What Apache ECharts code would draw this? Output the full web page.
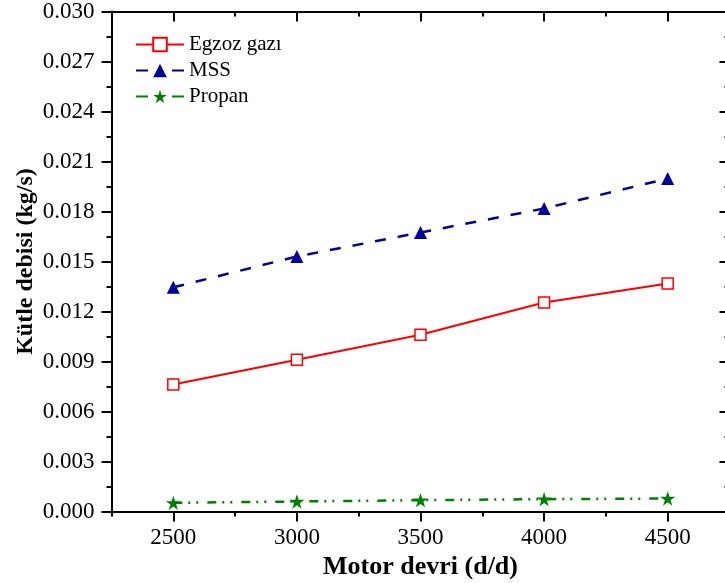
<!DOCTYPE html>
<html>
<head>
<meta charset="utf-8">
<script src="https://cdn.jsdelivr.net/npm/echarts@6/dist/echarts.min.js"></script>
<style>
html,body{margin:0;padding:0;background:#fff;}
#chart{width:725px;height:583px;}
</style>
</head>
<body>
<div id="chart"></div>
<script>
const rpm = [2500, 3000, 3500, 4000, 4500];
const egzoz = [0.00762, 0.0091, 0.0106, 0.01254, 0.01368];
const mss = [0.01345, 0.0153, 0.01674, 0.01818, 0.01998];
const propan = [0.00052, 0.0006, 0.00068, 0.00074, 0.00078];
const xMajorTicks = [2500, 3000, 3500, 4000, 4500];
const xMinorTicks = [2250, 2750, 3250, 3750, 4250, 4750];
const seriesNames = ['Egzoz gazı', 'MSS', 'Propan'];

const FONT = "'Liberation Serif', 'Times New Roman', serif";
const STAR = 'path://M100,0 L122.45,69.1 L195.1,69.1 L136.33,111.8 L158.78,180.9 L100,138.2 L41.22,180.9 L63.67,111.8 L4.9,69.1 L77.55,69.1 Z';
const XMIN = 2250, XMAX = 4750;

function pairs(ys){ return rpm.map((x,i)=>[x, ys[i]]); }

const axisLine = {show:true, lineStyle:{color:'#000', width:2}};

const chart = echarts.init(document.getElementById('chart'));
chart.setOption({
  animation:false,
  backgroundColor:'#fff',
  grid:{left:111.5, top:11.5, width:618, height:500, containLabel:false, outerBoundsMode:'none'},
  legend:{
    orient:'vertical', left:135, top:34, padding:0,
    itemWidth:48, itemHeight:17, itemGap:5,
    textStyle:{fontFamily:FONT, fontSize:21, color:'#000'},
    data:[
      {name:seriesNames[0]},
      {name:seriesNames[1], lineStyle:{type:[12,24]}},
      {name:seriesNames[2], lineStyle:{type:[12,24]}}
    ]
  },
  xAxis:[
    {type:'value', min:XMIN, max:XMAX, position:'bottom',
     axisLine:axisLine,
     axisTick:{show:true, customValues:xMajorTicks, length:10, lineStyle:{color:'#000', width:2}},
     axisLabel:{customValues:xMajorTicks, fontFamily:FONT, fontSize:23, color:'#000', margin:15, formatter:v=>String(v)},
     splitLine:{show:false},
     name:'Motor devri (d/d)', nameLocation:'middle', nameGap:43, nameMoveOverlap:false,
     nameTextStyle:{fontFamily:FONT, fontSize:26, fontWeight:'bold', color:'#000'}},
    {type:'value', min:XMIN, max:XMAX, position:'bottom',
     axisLine:axisLine,
     axisTick:{show:true, customValues:xMinorTicks, length:5, lineStyle:{color:'#000', width:2}},
     axisLabel:{show:false}, splitLine:{show:false}},
    {type:'value', min:XMIN, max:XMAX, position:'top',
     axisLine:axisLine,
     axisTick:{show:true, inside:true, customValues:xMajorTicks, length:10, lineStyle:{color:'#000', width:2}},
     axisLabel:{show:false}, splitLine:{show:false}},
    {type:'value', min:XMIN, max:XMAX, position:'top',
     axisLine:axisLine,
     axisTick:{show:true, inside:true, customValues:xMinorTicks, length:5, lineStyle:{color:'#000', width:2}},
     axisLabel:{show:false}, splitLine:{show:false}}
  ],
  yAxis:[
    {type:'value', min:0, max:0.03, interval:0.003, position:'left',
     axisLine:axisLine,
     axisTick:{show:true, length:10, lineStyle:{color:'#000', width:2}},
     minorTick:{show:true, splitNumber:2, length:5, lineStyle:{color:'#000', width:2}},
     axisLabel:{fontFamily:FONT, fontSize:23, color:'#000', margin:17, formatter:v=>v.toFixed(3)},
     splitLine:{show:false}, minorSplitLine:{show:false},
     name:'Kütle debisi (kg/s)', nameLocation:'middle', nameGap:74, nameMoveOverlap:false,
     nameTextStyle:{fontFamily:FONT, fontSize:24, fontWeight:'bold', color:'#000'}},
    {type:'value', min:0, max:0.03, interval:0.003, position:'right',
     axisLine:axisLine,
     axisTick:{show:true, inside:true, length:10, lineStyle:{color:'#000', width:2}},
     minorTick:{show:true, splitNumber:2, length:5, lineStyle:{color:'#000', width:2}},
     axisLabel:{show:false}, splitLine:{show:false}}
  ],
  series:[
    {name:seriesNames[0], type:'line', xAxisIndex:0, yAxisIndex:0, data:pairs(egzoz),
     symbol:'rect', symbolSize:11,
     lineStyle:{color:'#ff0000', width:2, type:'solid'},
     itemStyle:{color:'#ffffff', borderColor:'#ff0000', borderWidth:1.5}},
    {name:seriesNames[1], type:'line', xAxisIndex:0, yAxisIndex:0, data:pairs(mss),
     symbol:'triangle', symbolSize:13,
     lineStyle:{color:'#00009c', width:2.5, type:[11,12]},
     itemStyle:{color:'#00009c', borderWidth:0}},
    {name:seriesNames[2], type:'line', xAxisIndex:0, yAxisIndex:0, data:pairs(propan),
     symbol:STAR, symbolSize:15, symbolKeepAspect:true,
     lineStyle:{color:'#008000', width:2.5, type:[9,6,2,6,2,9]},
     itemStyle:{color:'#008000', borderWidth:0}}
  ]
});
</script>
</body>
</html>
